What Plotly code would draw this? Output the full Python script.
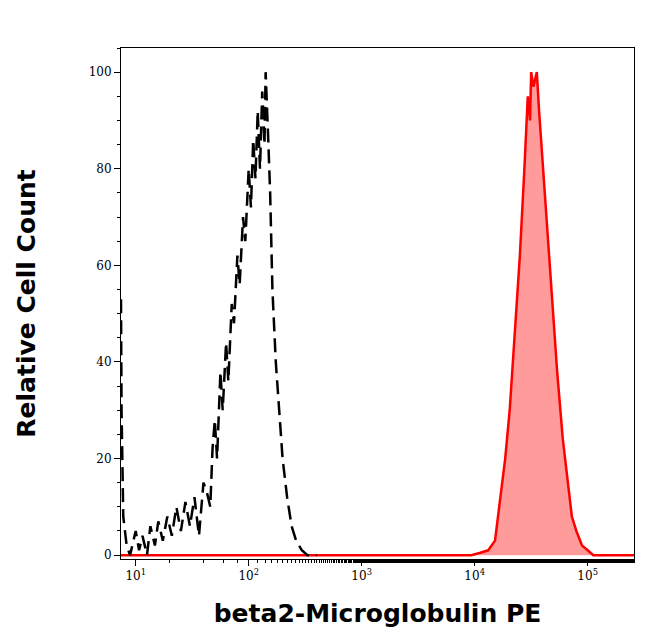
import plotly.graph_objects as go

iso_logx = [0.87,0.875,0.89,0.92,0.95,1.0,1.03,1.06,1.1,1.13,1.17,1.2,1.24,1.28,1.32,1.36,1.4,1.44,1.48,1.52,1.56,1.6,1.63,1.66,1.68,1.7,1.72,1.75,1.77,1.8,1.82,1.85,1.87,1.9,1.92,1.95,1.97,2.0,2.02,2.04,2.06,2.08,2.1,2.12,2.14,2.15,2.17,2.19,2.21,2.24,2.27,2.3,2.34,2.38,2.42,2.47,2.52,2.6]
iso_y = [53,30,8,2,0,5,1,4,0,6,2,7,3,8,4,10,5,11,6,12,4,15,13,10,22,28,20,38,30,44,36,52,48,62,56,70,65,80,72,86,78,92,80,96,85,100,88,75,55,40,30,20,12,6,3,1,0,0]
ab_logx = [0.87,3.9,3.97,4.05,4.12,4.18,4.23,4.27,4.31,4.35,4.4,4.44,4.47,4.49,4.5,4.52,4.55,4.57,4.6,4.64,4.69,4.73,4.78,4.82,4.86,4.9,4.95,5.0,5.05,5.41]
ab_y = [0,0,0,0.5,1,3,12,20,30,45,62,80,95,90,100,97,100,92,82,68,51,38,24,16,8,5,2,1,0,0]

fig = go.Figure()
fig.add_trace(go.Scatter(x=[10**v for v in ab_logx], y=ab_y, mode="lines", fill="tozeroy",
                         fillcolor="#FF9B9B", line=dict(color="#FF0000", width=2.5), showlegend=False))
fig.add_trace(go.Scatter(x=[10**v for v in iso_logx], y=iso_y, mode="lines",
                         line=dict(color="black", width=2.5, dash="14px,7px"), showlegend=False))

tickfont = dict(family="DejaVu Serif", size=12, color="black")
fig.update_layout(
    width=646, height=641, plot_bgcolor="white", paper_bgcolor="white",
    margin=dict(l=113, r=20, t=40, b=90),
    xaxis=dict(type="log", range=[0.87, 5.41], showgrid=False, zeroline=False, automargin=False,
               showline=True, mirror=True, linecolor="black", linewidth=1,
               ticks="outside", ticklen=6, tickcolor="black",
               tickvals=[10, 100, 1000, 10000, 100000],
               ticktext=["10<sup>1</sup>", "10<sup>2</sup>", "10<sup>3</sup>", "10<sup>4</sup>", "10<sup>5</sup>"],
               minor=dict(ticks="outside", ticklen=3, tickcolor="black", showgrid=False),
               tickfont=tickfont,
               title=dict(text="<b>beta2-Microglobulin PE</b>", font=dict(family="DejaVu Sans", size=25, color="black"), standoff=22)),
    yaxis=dict(range=[-0.8, 105], showgrid=False, zeroline=False, automargin=False,
               showline=True, mirror=True, linecolor="black", linewidth=1,
               ticks="outside", ticklen=6, tickcolor="black", tickvals=[0, 20, 40, 60, 80, 100],
               minor=dict(ticks="outside", ticklen=3, dtick=5, tickcolor="black"),
               tickfont=tickfont,
               title=dict(text="<b>Relative Cell Count</b>", font=dict(family="DejaVu Sans", size=25, color="black"), standoff=45)),
)
fig.write_html("out.html")
